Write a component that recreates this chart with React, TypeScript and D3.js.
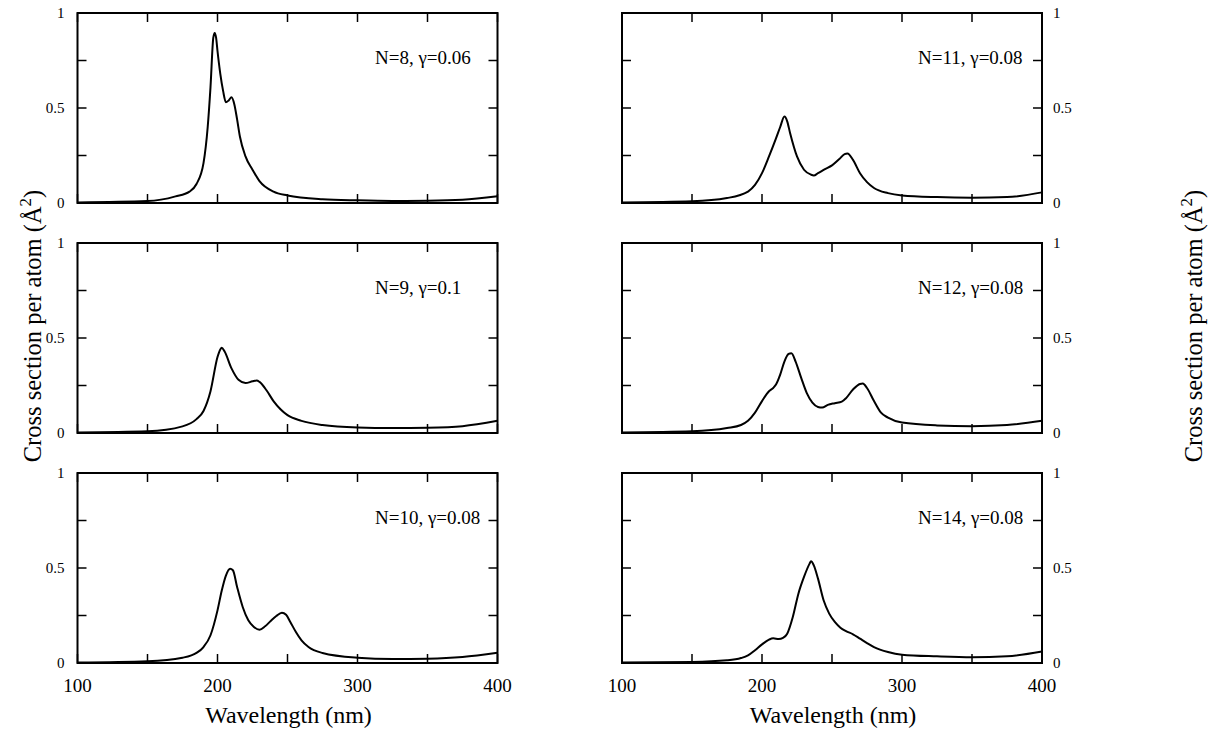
import React from 'react';
import * as d3 from 'd3';

// wavelength (nm) / cross section (Å^2)
const wlN8 = [100, 150, 170, 180, 185, 190, 193, 195, 197, 198, 199, 200, 202, 204, 206, 208, 210, 212, 214, 216, 220, 225, 230, 240, 250, 275, 300, 325, 350, 375, 400];
const csN8 = [0.003, 0.01, 0.035, 0.06, 0.1, 0.21, 0.4, 0.61, 0.87, 0.895, 0.87, 0.8, 0.68, 0.59, 0.53, 0.54, 0.556, 0.52, 0.44, 0.35, 0.245, 0.175, 0.115, 0.06, 0.04, 0.02, 0.014, 0.011, 0.012, 0.017, 0.035];

const wlN9 = [100, 150, 175, 185, 190, 195, 200, 202, 203, 205, 210, 215, 220, 225, 228, 230, 235, 240, 245, 250, 260, 275, 300, 325, 350, 375, 400];
const csN9 = [0.003, 0.009, 0.035, 0.073, 0.116, 0.22, 0.4, 0.44, 0.449, 0.43, 0.34, 0.28, 0.263, 0.272, 0.276, 0.269, 0.225, 0.168, 0.125, 0.094, 0.064, 0.042, 0.029, 0.026, 0.028, 0.036, 0.064];

const wlN10 = [100, 150, 175, 185, 190, 195, 200, 203, 206, 209, 211, 214, 218, 222, 226, 230, 234, 238, 242, 246, 249, 252, 256, 260, 265, 275, 300, 325, 350, 375, 400];
const csN10 = [0.002, 0.009, 0.028, 0.053, 0.084, 0.146, 0.277, 0.38, 0.46, 0.496, 0.488, 0.4, 0.295, 0.225, 0.19, 0.175, 0.193, 0.221, 0.247, 0.265, 0.254, 0.216, 0.163, 0.119, 0.084, 0.053, 0.028, 0.021, 0.023, 0.032, 0.054];

const wlN11 = [100, 150, 175, 190, 195, 200, 205, 210, 213, 216, 218, 220, 225, 230, 235, 237, 240, 245, 250, 255, 259, 261, 265, 270, 275, 280, 290, 300, 325, 350, 375, 400];
const csN11 = [0.003, 0.009, 0.026, 0.06, 0.095, 0.157, 0.245, 0.34, 0.4, 0.455, 0.43, 0.37, 0.245, 0.175, 0.149, 0.145, 0.157, 0.178, 0.198, 0.23, 0.257, 0.26, 0.227, 0.157, 0.11, 0.079, 0.052, 0.04, 0.031, 0.028, 0.031, 0.056];

const wlN12 = [100, 150, 175, 185, 190, 195, 200, 205, 208, 210, 213, 216, 219, 221, 224, 228, 232, 236, 240, 243, 247, 252, 257, 260, 265, 270, 272, 275, 280, 285, 290, 300, 325, 350, 375, 400];
const csN12 = [0.003, 0.009, 0.026, 0.042, 0.064, 0.107, 0.168, 0.22, 0.237, 0.255, 0.307, 0.376, 0.416, 0.42, 0.376, 0.29, 0.21, 0.16, 0.137, 0.134, 0.148, 0.157, 0.165, 0.183, 0.229, 0.258, 0.26, 0.237, 0.168, 0.107, 0.081, 0.055, 0.04, 0.036, 0.042, 0.064];

const wlN14 = [100, 150, 175, 185, 190, 195, 200, 205, 208, 212, 215, 218, 222, 226, 230, 234, 235, 237, 240, 244, 248, 252, 256, 260, 265, 270, 275, 280, 290, 300, 325, 350, 375, 400];
const csN14 = [0.002, 0.005, 0.014, 0.026, 0.04, 0.067, 0.098, 0.123, 0.13, 0.126, 0.132, 0.154, 0.242, 0.365, 0.453, 0.523, 0.535, 0.514, 0.444, 0.33, 0.26, 0.216, 0.186, 0.168, 0.151, 0.128, 0.105, 0.084, 0.058, 0.044, 0.035, 0.03, 0.035, 0.06];

const panelLabels = ['N=8, γ=0.06', 'N=9, γ=0.1', 'N=10, γ=0.08', 'N=11, γ=0.08', 'N=12, γ=0.08', 'N=14, γ=0.08'];
const xTicks = [100, 150, 200, 250, 300, 350, 400];
const xTickLabels = [100, 200, 300, 400];
const yTicks = [0, 0.25, 0.5, 0.75, 1];
const yTickLabels = [0, 0.5, 1];

const panels = [
  { wl: wlN8, cs: csN8, col: 0, row: 0 },
  { wl: wlN9, cs: csN9, col: 0, row: 1 },
  { wl: wlN10, cs: csN10, col: 0, row: 2 },
  { wl: wlN11, cs: csN11, col: 1, row: 0 },
  { wl: wlN12, cs: csN12, col: 1, row: 1 },
  { wl: wlN14, cs: csN14, col: 1, row: 2 },
];

const W = 1216;
const H = 732;
const colX = [77.5, 622];
const rowY = [13, 243, 473];
const pw = 420;
const ph = 190;
const font = '"Liberation Serif"';
const tickLen = 9;

const Panel = ({ p, label }: { p: any; label: string }) => {
  const x = d3.scaleLinear().domain([100, 400]).range([0, pw]);
  const y = d3.scaleLinear().domain([0, 1]).range([ph, 0]);
  const line = d3
    .line<number>()
    .x((d, i) => x(p.wl[i]))
    .y((d) => y(d))
    .curve(d3.curveMonotoneX);
  const left = p.col === 0;
  const bottom = p.row === 2;

  return (
    <g transform={`translate(${colX[p.col]}, ${rowY[p.row]})`}>
      <path d={line(p.cs) || ''} fill="none" stroke="#000" strokeWidth={2} strokeLinejoin="round" />
      {xTicks.map((t) => (
        <g key={'x' + t} stroke="#000" strokeWidth={1.5}>
          <line x1={x(t)} x2={x(t)} y1={0} y2={tickLen} />
          <line x1={x(t)} x2={x(t)} y1={ph} y2={ph - tickLen} />
        </g>
      ))}
      {yTicks.map((t) => (
        <g key={'y' + t} stroke="#000" strokeWidth={1.5}>
          <line x1={0} x2={tickLen} y1={y(t)} y2={y(t)} />
          <line x1={pw} x2={pw - tickLen} y1={y(t)} y2={y(t)} />
        </g>
      ))}
      <rect x={0} y={0} width={pw} height={ph} fill="none" stroke="#000" strokeWidth={2} />
      {yTickLabels.map((t) => (
        <text
          key={'yl' + t}
          x={left ? -13 : pw + 11}
          y={y(t)}
          dy="0.35em"
          textAnchor={left ? 'end' : 'start'}
          style={{ fontFamily: font, fontSize: 15 }}
        >
          {t}
        </text>
      ))}
      {bottom &&
        xTickLabels.map((t) => (
          <text key={'xl' + t} x={x(t)} y={ph + 29} textAnchor="middle" style={{ fontFamily: font, fontSize: 19 }}>
            {t}
          </text>
        ))}
      {bottom && (
        <text x={pw / 2 + 1} y={ph + 60} textAnchor="middle" style={{ fontFamily: font, fontSize: 24 }}>
          Wavelength (nm)
        </text>
      )}
      <text x={left ? 297.5 : 296} y={51} textAnchor="start" style={{ fontFamily: font, fontSize: 19 }}>
        {label}
      </text>
    </g>
  );
};

const YTitle = ({ cx }: { cx: number }) => (
  <text
    transform={`translate(${cx}, 326) rotate(-90)`}
    textAnchor="middle"
    style={{ fontFamily: font, fontSize: 24.5 }}
  >
    Cross section per atom (Å
    <tspan dy={-10} style={{ fontSize: 17 }}>2</tspan>
    <tspan dy={10}>)</tspan>
  </text>
);

export default function App() {
  return (
    <svg width={W} height={H} style={{ position: 'absolute', left: 0, top: 0, background: '#fff' }}>
      {panels.map((p, i) => (
        <Panel key={i} p={p} label={panelLabels[i]} />
      ))}
      <YTitle cx={41} />
      <YTitle cx={1202} />
    </svg>
  );
}
